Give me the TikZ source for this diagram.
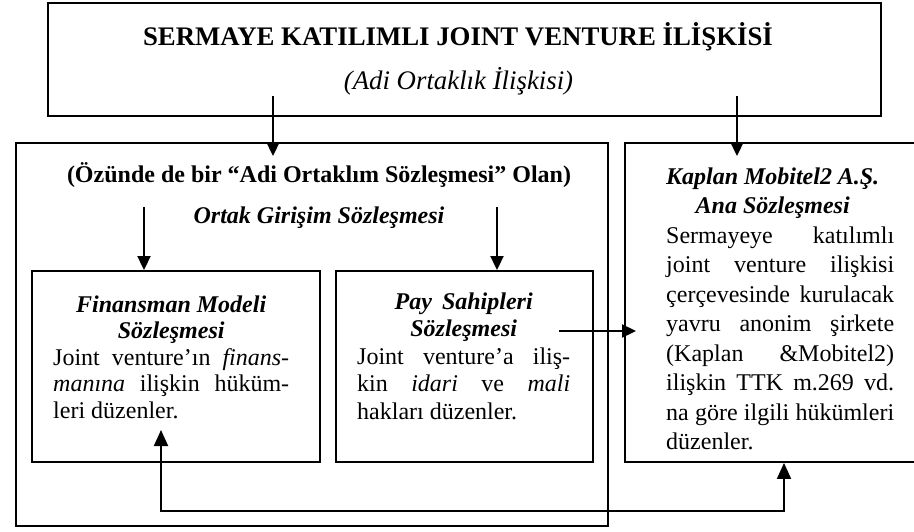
\documentclass[tikz,border=0pt]{standalone}
\usepackage{fontspec}
\setmainfont{Liberation Serif}
\usetikzlibrary{arrows.meta,fit}
\newcommand{\bigsize}{\fontsize{26.8}{30}\selectfont}
\newcommand{\midsize}{\fontsize{24}{28}\selectfont}
\begin{document}
\begin{tikzpicture}[x=1pt,y=-1pt,
  box/.style={draw, line width=1.9pt, inner sep=0pt, rectangle},
  arr/.style={line width=1.9pt, -{Triangle[width=13pt,length=14pt]}},
  arrboth/.style={line width=1.9pt, {Triangle[width=14pt,length=16pt]}-{Triangle[width=14pt,length=16pt]}},
  plaintxt/.style={anchor=base, inner sep=0pt},
  body/.style={anchor=base west, inner sep=0pt, align=justify}]
\useasboundingbox (0,0) rectangle (914,531);
% boxes
\node[box, fit={(48,3) (881,116)}] (top) {};
\node[box, fit={(16,143) (608,526)}] (outer) {};
\node[box, fit={(625,143) (930,462)}] (kap) {};
\node[box, fit={(32,271) (320,462)}] (fin) {};
\node[box, fit={(336,271) (593,462)}] (pay) {};
% texts
\node[plaintxt, font=\bigsize\bfseries] (title) at (458,45) {SERMAYE KATILIMLI JOINT VENTURE İLİŞKİSİ};
\node[plaintxt, font=\bigsize\itshape] (sub) at (458.5,89) {(Adi Ortaklık İlişkisi)};
\node[plaintxt, font=\midsize\bfseries] (oz) at (319,182) {(Özünde de bir “Adi Ortaklım Sözleşmesi” Olan)};
\node[plaintxt, font=\midsize\bfseries\itshape] (ogs) at (319,223) {Ortak Girişim Sözleşmesi};
\node[body, text width=236pt, font=\fontsize{24}{26.5}\selectfont] (fintxt) at (53,312)
  {{\centering\bfseries\itshape Finansman Modeli\par Sözleşmesi\par}\noindent
   Joint venture’ın \textit{finans-}\linebreak \textit{manına} ilişkin hüküm-\linebreak leri düzenler.};
\node[body, text width=213pt, font=\fontsize{24}{27.5}\selectfont] (paytxt) at (357,309)
  {{\centering\bfseries\itshape Pay\hspace{10pt}Sahipleri\par Sözleşmesi\par}\noindent
   Joint venture’a iliş-\linebreak kin \textit{idari} ve \textit{mali}\linebreak hakları düzenler.};
\node[body, text width=228pt, font=\fontsize{24}{29.5}\selectfont] (kaptxt) at (666,184)
  {{\centering\rightskip=15pt plus 1fil\relax\bfseries\itshape Kaplan Mobitel2 A.Ş.\par Ana Sözleşmesi\par}\noindent
   Sermayeye katılımlı\linebreak joint venture ilişkisi\linebreak çerçevesinde kurulacak\linebreak
   yavru anonim şirkete\linebreak (Kaplan \&Mobitel2)\linebreak ilişkin TTK m.269 vd.\linebreak
   na göre ilgili hükümleri\linebreak düzenler.};
% connectors
\coordinate (a1) at (273,96);
\draw[arr, shorten >=-14pt] (a1) -- (a1 |- outer.north);
\coordinate (a2) at (737,96);
\draw[arr, shorten >=-14pt] (a2) -- (a2 |- kap.north);
\coordinate (a3) at (144,207);
\draw[arr] (a3) -- (a3 |- fin.north);
\coordinate (a4) at (497,207);
\draw[arr] (a4) -- (a4 |- pay.north);
\coordinate (a5) at (559,331);
\draw[arr, shorten >=-12pt] (a5) -- (a5 -| kap.west);
\coordinate (b1) at (161,430);
\coordinate (b2) at (784,511);
\draw[arrboth] (b1) |- (b2) -- (b2 |- kap.south);
\end{tikzpicture}
\end{document}
